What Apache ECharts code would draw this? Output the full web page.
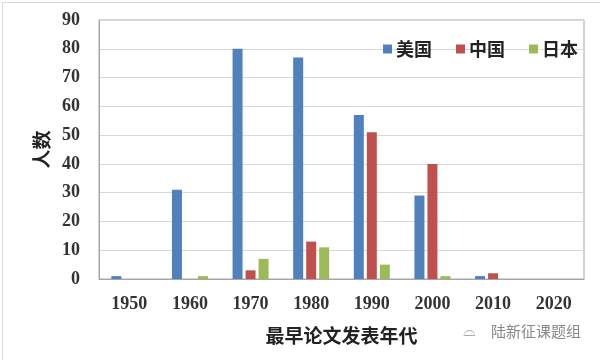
<!DOCTYPE html>
<html><head><meta charset="utf-8">
<script src="https://cdn.jsdelivr.net/npm/echarts@6/dist/echarts.min.js"></script>
<style>html,body{margin:0;padding:0;background:#fff}#c{width:600px;height:360px}</style>
</head><body><div id="c"></div>
<script>
const categories = ['1950','1960','1970','1980','1990','2000','2010','2020'];
const usa = [1,31,80,77,57,29,1,0];
const china = [0,0,3,13,51,40,2,0];
const japan = [0,1,7,11,5,1,0,0];
const seriesNames = ['美国','中国','日本'];
const yTicks = [0,10,20,30,40,50,60,70,80,90];

const chart = echarts.init(document.getElementById('c'));
const serif = '"Liberation Serif","Times New Roman",serif';
const cjk = '"Noto Sans CJK SC",sans-serif';
chart.setOption({
  animation:false,
  color:['#4F81BD','#C0504D','#9BBB59'],
  grid:{left:99,right:16,top:20,bottom:81,show:true,borderColor:'#A6A6A6',borderWidth:1},
  legend:{right:17,top:35,itemWidth:9,itemHeight:9,itemGap:24,icon:'rect',
    textStyle:{fontFamily:cjk,fontSize:18,fontWeight:'bold',color:'#222',padding:[0,0,0,-1]},
    data:seriesNames},
  xAxis:{type:'category',data:categories,
    axisLine:{lineStyle:{color:'#A6A6A6'}},axisTick:{show:false},
    axisLabel:{fontFamily:serif,fontSize:18,fontWeight:'bold',color:'#333',margin:16},
    name:'最早论文发表年代',nameLocation:'middle',nameGap:47,
    nameTextStyle:{fontFamily:cjk,fontSize:19,fontWeight:'bold',color:'#222'}},
  yAxis:{type:'value',min:0,max:90,interval:10,
    axisLine:{show:true,lineStyle:{color:'#A6A6A6'}},axisTick:{show:false},
    splitLine:{lineStyle:{color:'#D9D9D9'}},
    axisLabel:{fontFamily:serif,fontSize:18,fontWeight:'bold',color:'#333',margin:19,
      formatter:v=>yTicks.includes(v)?String(v):''},
    name:'人数',nameLocation:'middle',nameGap:47,nameRotate:90,
    nameTextStyle:{fontFamily:cjk,fontSize:19,fontWeight:'bold',color:'#222'}},
  series:[
    {name:seriesNames[0],type:'bar',data:usa,barWidth:10,barGap:'30%'},
    {name:seriesNames[1],type:'bar',data:china,barWidth:10,barGap:'30%'},
    {name:seriesNames[2],type:'bar',data:japan,barWidth:10,barGap:'30%'}
  ],
  graphic:[
    {type:'rect',left:0,top:0,shape:{width:599,height:359},style:{fill:'none',stroke:'#D9D9D9',lineWidth:1}},
    {type:'text',left:491,top:324,style:{text:'陆新征课题组',font:'15px "Noto Sans CJK SC"',fill:'#888'}},
    {type:'text',left:463,top:324,style:{text:'⌓',font:'16px "DejaVu Sans"',fill:'#AAA'}}
  ]
});
</script></body></html>
